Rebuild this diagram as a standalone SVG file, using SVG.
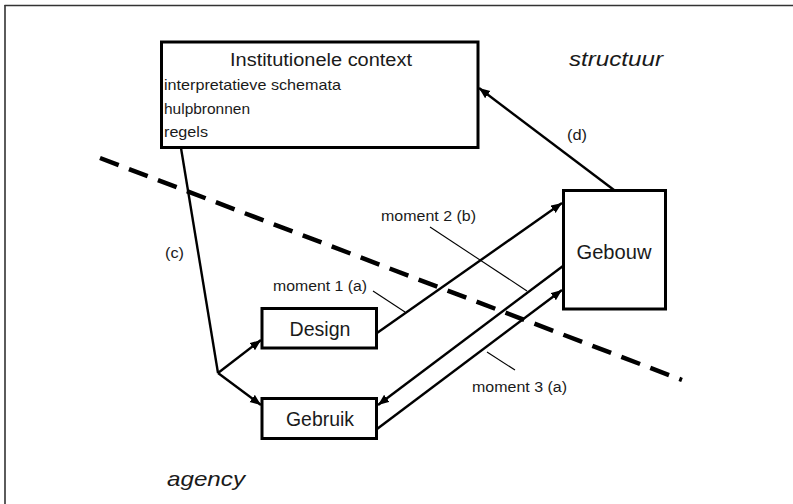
<svg xmlns="http://www.w3.org/2000/svg" width="793" height="504" viewBox="0 0 793 504">
<style>
  text { font-family: "Liberation Sans", Arial, sans-serif; fill: #1a1a1a; }
  .box { fill: #fff; stroke: #000; stroke-width: 3; }
  .conn { fill: none; stroke: #000; stroke-width: 2.4; }
  .lead { fill: none; stroke: #000; stroke-width: 1.1; }
  .lbl { font-size: 14px; }
  .node { font-size: 20px; }
  .item { font-size: 15px; }
  .ital { font-size: 21px; font-style: italic; }
</style>
<defs>
  <marker id="ah" markerUnits="userSpaceOnUse" markerWidth="12" markerHeight="10" refX="11" refY="4.5" orient="auto">
    <path d="M0,0 L11,4.5 L0,9 z" fill="#000"/>
  </marker>
</defs>
<rect x="0" y="0" width="793" height="504" fill="#fff"/>
<g id="frame" fill="none" stroke="#333" stroke-width="1.6">
  <line x1="4.5" y1="5.5" x2="793" y2="5.5"/>
  <line x1="5" y1="5" x2="5" y2="504"/>
</g>
<g id="divider">
  <line x1="100" y1="158" x2="682" y2="380" stroke="#000" stroke-width="4.5" stroke-dasharray="20 11"/>
</g>
<g id="connectors">
  <polyline class="conn" points="181,148 218,373"/>
  <line class="conn" x1="218" y1="373" x2="261" y2="340" marker-end="url(#ah)"/>
  <line class="conn" x1="218" y1="373" x2="261" y2="405" marker-end="url(#ah)"/>
  <line class="conn" x1="377" y1="333" x2="562" y2="203" marker-end="url(#ah)"/>
  <line class="conn" x1="563" y1="266" x2="378" y2="405" marker-end="url(#ah)"/>
  <line class="conn" x1="377" y1="429" x2="562" y2="290" marker-end="url(#ah)"/>
  <line class="conn" x1="614" y1="190" x2="479" y2="88" marker-end="url(#ah)"/>
  <line class="lead" x1="373" y1="291" x2="405" y2="312"/>
  <line class="lead" x1="430" y1="227" x2="527" y2="291"/>
  <line class="lead" x1="487" y1="352" x2="515" y2="370"/>
  <text class="lbl" x="165" y="258" textLength="19" lengthAdjust="spacingAndGlyphs">(c)</text>
  <text class="lbl" x="567" y="140" textLength="20" lengthAdjust="spacingAndGlyphs">(d)</text>
  <text class="lbl" x="273" y="291" textLength="94" lengthAdjust="spacingAndGlyphs">moment 1 (a)</text>
  <text class="lbl" x="381" y="221" textLength="95" lengthAdjust="spacingAndGlyphs">moment 2 (b)</text>
  <text class="lbl" x="472" y="392" textLength="95" lengthAdjust="spacingAndGlyphs">moment 3 (a)</text>
</g>
<g id="institutionele-context">
  <rect class="box" x="161.5" y="42" width="316.5" height="105.5" stroke-width="3.5"/>
  <text x="321" y="66" font-size="18" text-anchor="middle" textLength="182" lengthAdjust="spacingAndGlyphs">Institutionele context</text>
  <text class="item" x="164" y="90" textLength="177" lengthAdjust="spacingAndGlyphs">interpretatieve schemata</text>
  <text class="item" x="164" y="114" textLength="86" lengthAdjust="spacingAndGlyphs">hulpbronnen</text>
  <text class="item" x="164" y="137" textLength="44" lengthAdjust="spacingAndGlyphs">regels</text>
</g>
<g id="gebouw">
  <rect class="box" x="563.5" y="190.5" width="102" height="118.5"/>
  <text class="node" x="614" y="259" text-anchor="middle" textLength="75" lengthAdjust="spacingAndGlyphs">Gebouw</text>
</g>
<g id="design">
  <rect class="box" x="262" y="308.5" width="114.5" height="39.5"/>
  <text class="node" x="320" y="336" text-anchor="middle" textLength="61" lengthAdjust="spacingAndGlyphs">Design</text>
</g>
<g id="gebruik">
  <rect class="box" x="262" y="398.5" width="114.5" height="40"/>
  <text class="node" x="320" y="426" text-anchor="middle" textLength="68" lengthAdjust="spacingAndGlyphs">Gebruik</text>
</g>
<g id="structuur">
  <text class="ital" x="569" y="66" textLength="94" lengthAdjust="spacingAndGlyphs">structuur</text>
</g>
<g id="agency">
  <text class="ital" x="167" y="486" textLength="78" lengthAdjust="spacingAndGlyphs">agency</text>
</g>
</svg>
